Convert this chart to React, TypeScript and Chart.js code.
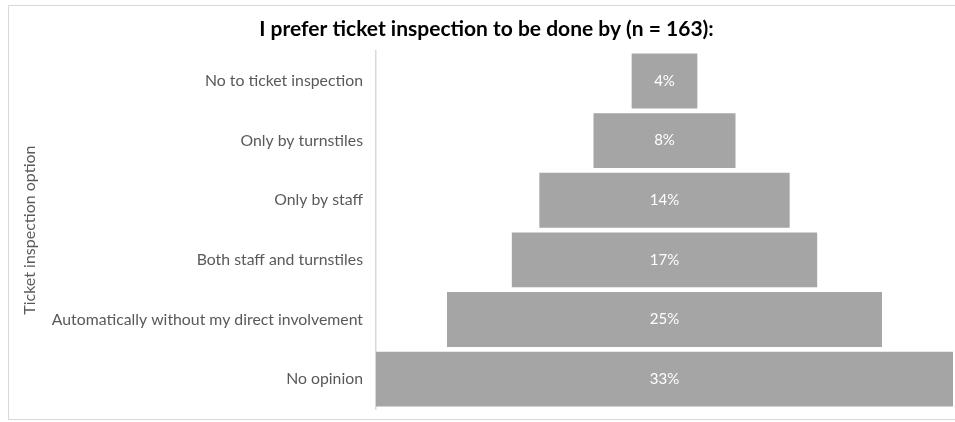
import React, { useEffect, useRef } from "react";
import { Chart, registerables } from "chart.js";

Chart.register(...registerables);

const categories = [
  "No to ticket inspection",
  "Only by turnstiles",
  "Only by staff",
  "Both staff and turnstiles",
  "Automatically without my direct involvement",
  "No opinion",
];
const shares = [3.7, 8.0, 14.1, 17.2, 24.5, 32.5];
const shareLabels = ["4%", "8%", "14%", "17%", "25%", "33%"];

const FONT = "Lato, 'Open Sans', sans-serif";

const barLabels = {
  id: "barLabels",
  afterDatasetsDraw(chart: any) {
    const ctx = chart.ctx;
    const meta = chart.getDatasetMeta(0);
    ctx.save();
    ctx.fillStyle = "#ffffff";
    ctx.font = `15px ${FONT}`;
    ctx.textAlign = "center";
    ctx.textBaseline = "middle";
    meta.data.forEach((el: any, i: number) => {
      const cx = (el.x + el.base) / 2;
      ctx.fillText(shareLabels[i], cx, el.y);
    });
    ctx.restore();
  },
};

export default function App() {
  const ref = useRef<HTMLCanvasElement>(null);
  useEffect(() => {
    if (!ref.current) return;
    const maxShare = Math.max(...shares);
    const chart = new Chart(ref.current, {
      type: "bar",
      data: {
        labels: categories,
        datasets: [
          {
            data: shares.map((v) => [-v / 2, v / 2]) as any,
            backgroundColor: "#a5a5a5",
            borderWidth: 0,
            categoryPercentage: 1,
            barPercentage: 0.92,
          },
        ],
      },
      options: {
        indexAxis: "y",
        responsive: false,
        animation: false,
        layout: { padding: { left: 20, right: 2, top: 0, bottom: 13 } },
        plugins: {
          legend: { display: false },
          tooltip: { enabled: false },
          title: {
            display: true,
            text: "I prefer ticket inspection to be done by (n = 163):",
            color: "#000000",
            font: { family: FONT, size: 21, weight: "bold", lineHeight: 1.2 },
            padding: { top: 17, bottom: 9 },
          },
        },
        scales: {
          x: {
            display: false,
            min: -maxShare / 2,
            max: maxShare / 2,
          },
          y: {
            grid: { display: false, drawTicks: false },
            border: { display: true, color: "#d9d9d9", width: 1.5 },
            ticks: {
              color: "#595959",
              font: { family: FONT, size: 15.8 },
              padding: 13,
            },
            title: {
              display: true,
              text: "Ticket inspection option",
              color: "#595959",
              font: { family: FONT, size: 16, lineHeight: 1.2 },
              padding: 0,
            },
            afterFit(scale: any) {
              scale.width = 356;
              scale.paddingTop = 0;
              scale.paddingBottom = 0;
            },
          },
        },
      },
      plugins: [barLabels],
    });
    return () => chart.destroy();
  }, []);

  return (
    <div style={{ position: "absolute", left: 0, top: 0, width: 955, height: 422, background: "#fff" }}>
      <div
        style={{
          position: "absolute",
          left: 8,
          top: 5,
          width: 960,
          height: 415,
          border: "1px solid #d9d9d9",
          boxSizing: "border-box",
        }}
      />
      <canvas
        ref={ref}
        width={955}
        height={422}
        style={{ position: "absolute", left: 0, top: 0, width: 955, height: 422 }}
      />
    </div>
  );
}
